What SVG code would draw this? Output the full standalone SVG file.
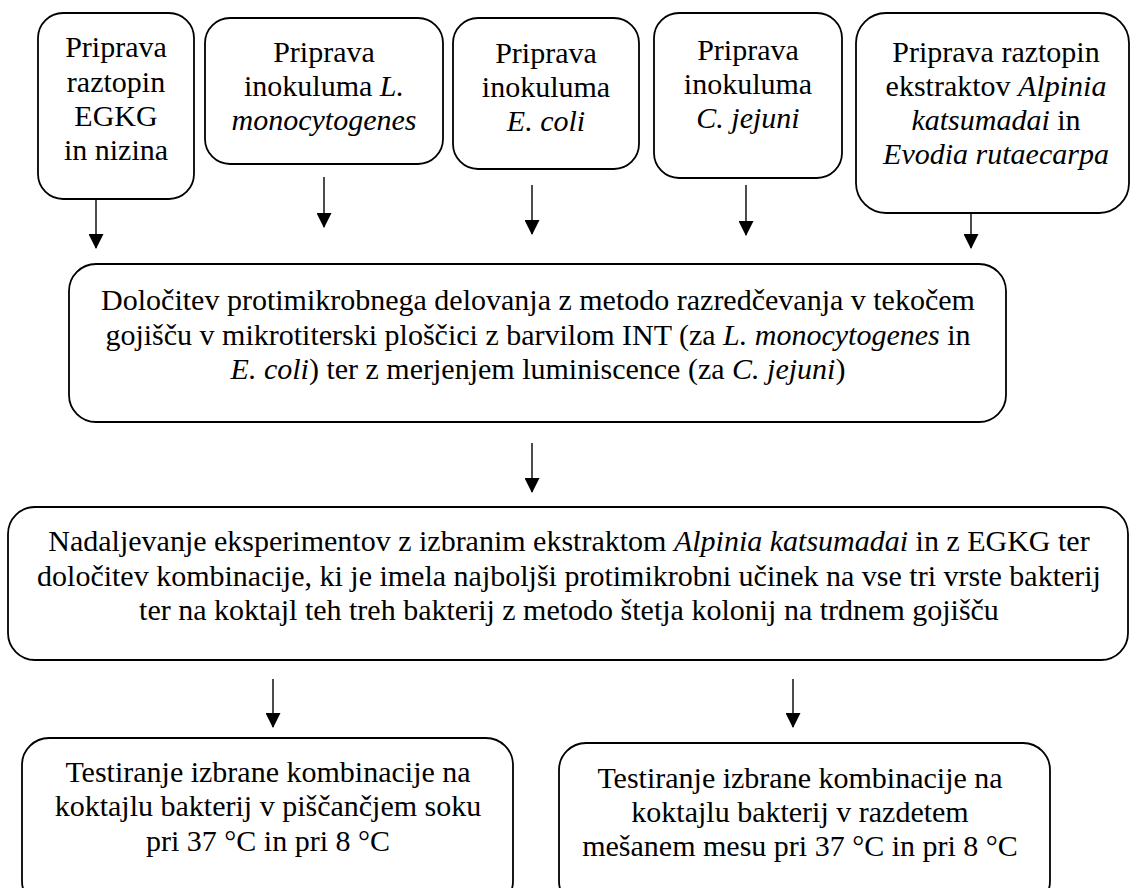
<svg xmlns="http://www.w3.org/2000/svg" width="1131" height="888" viewBox="0 0 1131 888">
<defs>
<style>
.box{fill:#fff;stroke:#000;stroke-width:1.8}
.t{font-family:"Liberation Serif","Times New Roman",serif;font-size:30px;fill:#000;text-anchor:middle}
.i{font-style:italic}
.c{stroke:#000;stroke-width:1.4;fill:none}
</style>
<marker id="ah" viewBox="0 0 15 15" refX="14" refY="7.5" markerWidth="15" markerHeight="15" markerUnits="userSpaceOnUse" orient="auto">
<path d="M0,0 L15,7.5 L0,15 z" fill="#000"/>
</marker>
</defs>
<rect width="1131" height="888" fill="#fff"/>
<g id="connectors">
<line class="c" x1="96" y1="199" x2="96" y2="248" marker-end="url(#ah)"/>
<line class="c" x1="324" y1="177" x2="324" y2="227" marker-end="url(#ah)"/>
<line class="c" x1="532" y1="185" x2="532" y2="234" marker-end="url(#ah)"/>
<line class="c" x1="746" y1="185" x2="746" y2="235" marker-end="url(#ah)"/>
<line class="c" x1="971" y1="213" x2="971" y2="248" marker-end="url(#ah)"/>
<line class="c" x1="532" y1="443" x2="532" y2="492" marker-end="url(#ah)"/>
<line class="c" x1="273" y1="679" x2="273" y2="727" marker-end="url(#ah)"/>
<line class="c" x1="793" y1="679" x2="793" y2="727" marker-end="url(#ah)"/>
</g>
<g id="n1">
<rect class="box" x="38" y="13" width="156" height="186" rx="25"/>
<text class="t"><tspan x="116" y="57">Priprava</tspan><tspan x="116" y="92">raztopin</tspan><tspan x="116" y="126">EGKG</tspan><tspan x="116" y="160">in nizina</tspan></text>
</g>
<g id="n2">
<rect class="box" x="205" y="18" width="238" height="146" rx="25"/>
<text class="t"><tspan x="324" y="62">Priprava</tspan><tspan x="324" y="96">inokuluma <tspan class="i">L.</tspan></tspan><tspan x="324" y="130" class="i">monocytogenes</tspan></text>
</g>
<g id="n3">
<rect class="box" x="453" y="18" width="186" height="151" rx="25"/>
<text class="t"><tspan x="546" y="63">Priprava</tspan><tspan x="546" y="97">inokuluma</tspan><tspan x="546" y="131" class="i">E. coli</tspan></text>
</g>
<g id="n4">
<rect class="box" x="654" y="13" width="188" height="165" rx="25"/>
<text class="t"><tspan x="748" y="60">Priprava</tspan><tspan x="748" y="94">inokuluma</tspan><tspan x="748" y="128" class="i">C. jejuni</tspan></text>
</g>
<g id="n5">
<rect class="box" x="856" y="13" width="273" height="200" rx="30"/>
<text class="t"><tspan x="996" y="62">Priprava raztopin</tspan><tspan x="996" y="96">ekstraktov <tspan class="i">Alpinia</tspan></tspan><tspan x="996" y="130"><tspan class="i">katsumadai</tspan> in</tspan><tspan x="996" y="164" class="i">Evodia rutaecarpa</tspan></text>
</g>
<g id="n6">
<rect class="box" x="69" y="264" width="937" height="158" rx="27"/>
<text class="t"><tspan x="538" y="310">Določitev protimikrobnega delovanja z metodo razredčevanja v tekočem</tspan><tspan x="538" y="345">gojišču v mikrotiterski ploščici z barvilom INT (za <tspan class="i">L. monocytogenes</tspan> in</tspan><tspan x="538" y="379"><tspan class="i">E. coli</tspan>) ter z merjenjem luminiscence (za <tspan class="i">C. jejuni</tspan>)</tspan></text>
</g>
<g id="n7">
<rect class="box" x="8" y="507" width="1120" height="153" rx="27"/>
<text class="t"><tspan x="569" y="551">Nadaljevanje eksperimentov z izbranim ekstraktom <tspan class="i">Alpinia katsumadai</tspan> in z EGKG ter</tspan><tspan x="569" y="586">določitev kombinacije, ki je imela najboljši protimikrobni učinek na vse tri vrste bakterij</tspan><tspan x="569" y="620">ter na koktajl teh treh bakterij z metodo štetja kolonij na trdnem gojišču</tspan></text>
</g>
<g id="n8">
<rect class="box" x="22" y="738" width="491" height="170" rx="27"/>
<text class="t"><tspan x="268" y="782">Testiranje izbrane kombinacije na</tspan><tspan x="268" y="816">koktajlu bakterij v piščančjem soku</tspan><tspan x="268" y="851">pri 37 °C in pri 8 °C</tspan></text>
</g>
<g id="n9">
<rect class="box" x="559" y="743" width="491" height="165" rx="27"/>
<text class="t"><tspan x="800" y="788">Testiranje izbrane kombinacije na</tspan><tspan x="800" y="822">koktajlu bakterij v razdetem</tspan><tspan x="800" y="856">mešanem mesu pri 37 °C in pri 8 °C</tspan></text>
</g>
</svg>
